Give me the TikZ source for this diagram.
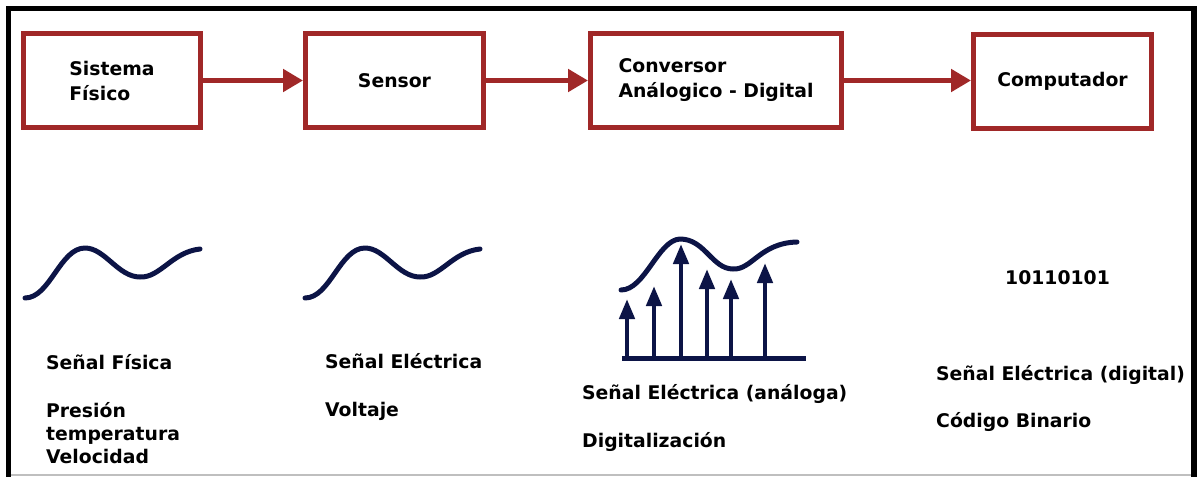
\documentclass[tikz,border=0pt]{standalone}
\usepackage{fontspec}
\setmainfont{DejaVu Sans}
\usetikzlibrary{arrows.meta}
\definecolor{boxred}{RGB}{160,40,40}
\definecolor{navy}{RGB}{12,20,70}
\begin{document}
\begin{tikzpicture}[x=1pt,y=-1pt,
  blk/.style={draw=boxred, line width=5pt, fill=white, inner sep=0pt, align=left,
    font=\fontsize{18.8}{25}\selectfont\bfseries},
  conn/.style={draw=boxred, line width=5pt, -{Triangle[length=20pt,width=22pt]}},
  lbl/.style={anchor=base west, inner sep=0pt, font=\fontsize{18.8}{23}\selectfont\bfseries},
  wave/.style={draw=navy, line width=5pt, line cap=round, line join=round},
  stem/.style={draw=navy, line width=4.5pt, -{Triangle[length=20pt,width=15pt]}}]

\useasboundingbox (0,0) rectangle (1199,477);
\fill[white] (0,0) rectangle (1199,477);
% frame
\fill[black] (6,6) rectangle (1197,11);
\fill[black] (6,6) rectangle (11,477);
\fill[black] (1191,6) rectangle (1197,477);
\draw[black!25, line width=2pt] (11,475) -- (1191,475);

% blocks
\node[blk, minimum width=177pt, minimum height=94pt] (b1) at (112,80.5) {Sistema\\Físico};
\node[blk, minimum width=178pt, minimum height=94pt] (b2) at (394.5,80.5) {Sensor};
\node[blk, minimum width=251pt, minimum height=94pt] (b3) at (716,80.5) {Conversor\\Análogico - Digital};
\node[blk, minimum width=178pt, minimum height=94pt] (b4) at (1062.5,81.5) {Computador};

\draw[conn] (b1.east) -- (b2.west);
\draw[conn] (b2.east) -- (b3.west);
\draw[conn] (b3.east) -- (b3.east -| b4.west);

% waves
\foreach \dx in {0,280}{
  \begin{scope}[xshift=\dx pt]
    \draw[wave] (25,298) .. controls (50,298) and (60,248) .. (85,248)
      .. controls (105,248) and (118,277) .. (140,277)
      .. controls (160,278) and (172,252) .. (200,249);
  \end{scope}
}

% sampled signal
\draw[wave] (621,290) .. controls (645,290) and (658,240) .. (680,239)
  .. controls (705,239) and (712,269) .. (733,269)
  .. controls (752,270) and (760,243) .. (797,242);
\draw[navy, line width=5pt] (622,358) -- (806,358);
\foreach \x/\y in {627/299, 654/286, 681/244, 707/269, 731/279, 765/263}
  \draw[stem] (\x,358) -- (\x,\y);

% labels
\node[lbl] (t1) at (46,369) {Señal Física};
\node[lbl] (t2) at (46,417) {Presión};
\node[lbl] (t3) at (46,440) {temperatura};
\node[lbl] (t4) at (46,463) {Velocidad};
\node[lbl] (t5) at (325,368) {Señal Eléctrica};
\node[lbl] (t6) at (325,416) {Voltaje};
\node[lbl] (t7) at (582,399) {Señal Eléctrica (análoga)};
\node[lbl] (t8) at (582,447) {Digitalización};
\node[lbl] (t9) at (1005,284) {10110101};
\node[lbl] (t10) at (936,380) {Señal Eléctrica (digital)};
\node[lbl] (t11) at (936,427) {Código Binario};
\end{tikzpicture}
\end{document}
